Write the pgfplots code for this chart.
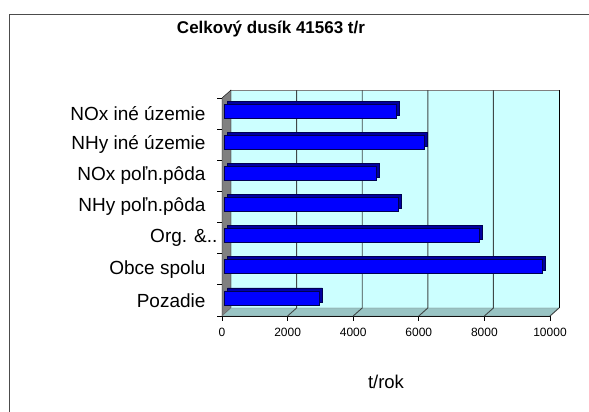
\documentclass[border=0pt]{standalone}
\usepackage{fontspec}
\setmainfont{Liberation Sans}
\usepackage{pgfplots}
\usepackage{pgfplotstable}
\pgfplotsset{compat=1.18}
\definecolor{wallc}{HTML}{CCFFFF}
\definecolor{floorc}{HTML}{99C4C4}
\definecolor{sidec}{HTML}{808080}
\definecolor{barc}{HTML}{0000FF}
\definecolor{bardark}{HTML}{0000A0}
\definecolor{edgec}{HTML}{000050}
\definecolor{gridc}{HTML}{404848}

% y: 0 = Pozadie (bottom) ... 6 = NOx ine uzemie (top)
\pgfplotstableread{
y val
0 2890
1 9700
2 7760
3 5290
4 4620
5 6090
6 5230
}\dusik

\begin{document}
\begin{tikzpicture}[x=1pt,y=1pt]
\useasboundingbox (0,0) rectangle (589,412);
\draw[black!70, line width=0.8pt] (9,0) -- (9,398) -- (589,398);
\node[font=\fontsize{17}{19}\selectfont\bfseries] at (271,383) {Celkový dusík 41563 t/r};
\begin{axis}[
  at={(222pt,96pt)}, anchor=south west,
  scale only axis, width=328pt, height=218pt,
  xmin=0, xmax=10000, ymin=-0.5, ymax=6.5,
  clip=false,
  axis x line*=bottom, axis y line*=left,
  axis line style={black, line width=0.8pt},
  xtick={0,2000,...,10000},
  scaled x ticks=false,
  ytick={-0.5,0.5,...,6.5},
  y tick label as interval,
  yticklabels={Pozadie, Obce spolu, Org. \&..\hspace*{-12pt}, NHy poľn.pôda,
               NOx poľn.pôda, NHy iné územie, NOx iné územie},
  tick align=outside, major tick length=5pt,
  tick style={black, line width=0.8pt},
  /pgf/number format/1000 sep={},
  /pgf/number format/assume math mode=true,
  xticklabel style={font=\fontsize{12}{14}\selectfont, yshift=-4pt},
  yticklabel style={font=\fontsize{19}{21}\selectfont, xshift=-8pt},
  xlabel={t/rok},
  xlabel style={at={(axis description cs:0.5,0)}, anchor=center,
                yshift=-66pt, font=\fontsize{18.5}{20}\selectfont},
]
  % walls and floor of the 3-D plot area
  \fill[wallc] ([shift={(9pt,8pt)}]axis cs:0,-0.5)
     rectangle ([shift={(9pt,8pt)}]axis cs:10000,6.5);
  \draw[gray] ([shift={(9pt,8pt)}]axis cs:0,6.5) -- ([shift={(9pt,8pt)}]axis cs:10000,6.5);
  \draw[black, line width=0.8pt] ([shift={(9pt,8pt)}]axis cs:10000,-0.5)
     -- ([shift={(9pt,8pt)}]axis cs:10000,6.5);
  \filldraw[fill=sidec, draw=black] (axis cs:0,-0.5) -- (axis cs:0,6.5)
     -- ([shift={(9pt,8pt)}]axis cs:0,6.5) -- ([shift={(9pt,8pt)}]axis cs:0,-0.5) -- cycle;
  \filldraw[fill=floorc, draw=gray] (axis cs:0,-0.5) -- (axis cs:10000,-0.5)
     -- ([shift={(9pt,8pt)}]axis cs:10000,-0.5) -- ([shift={(9pt,8pt)}]axis cs:0,-0.5) -- cycle;
  \pgfplotsinvokeforeach{2000,4000,6000,8000}{
    \draw[gridc, line width=0.9pt] (axis cs:#1,-0.5) -- ([shift={(9pt,8pt)}]axis cs:#1,-0.5)
       -- ([shift={(9pt,8pt)}]axis cs:#1,6.5);
  }
  \draw[gridc, line width=0.9pt] (axis cs:10000,-0.5) -- ([shift={(9pt,8pt)}]axis cs:10000,-0.5);

  % bars: darker body behind, front face on top
  \addplot[xbar, bar width=14pt, xshift=5.5pt, yshift=5.5pt,
           fill=bardark, draw=edgec, line width=0.6pt]
    table[x=val, y=y] {\dusik};
  \addplot[xbar, bar width=14pt, xshift=2.5pt, yshift=2.5pt,
           fill=barc, draw=edgec, line width=0.6pt]
    table[x=val, y=y] {\dusik};
\end{axis}
\end{tikzpicture}
\end{document}
